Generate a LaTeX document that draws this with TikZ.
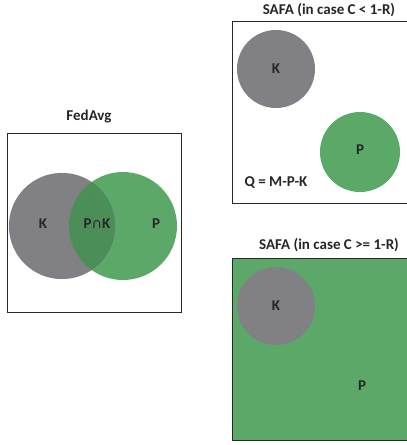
\documentclass[tikz,border=0pt]{standalone}
\usepackage{fontspec}
\setmainfont{Carlito}
\definecolor{kgray}{RGB}{128,128,133}
\definecolor{pgreen}{RGB}{92,168,104}
\definecolor{pkgreen}{RGB}{76,142,88}
\definecolor{frame}{RGB}{40,40,40}
\begin{document}
\begin{tikzpicture}[x=1pt,y=-1pt,
  title/.style={font=\bfseries\fontsize{15}{17}\selectfont, text=black!85},
  lab/.style={font=\bfseries\fontsize{15}{17}\selectfont, text=black!85},
  boxline/.style={draw=frame, line width=1pt}]
\useasboundingbox (0,0) rectangle (407,445);
% FedAvg
\node[title] (t1) at (89,117) {FedAvg};
\draw[boxline] (7,133) rectangle (181,312);
\fill[kgray] (62,226) circle (53);
\fill[pgreen] (123,226) circle (54);
\begin{scope}
\clip (62,226) circle (53);
\fill[pkgreen] (123,226) circle (54);
\end{scope}
\draw[kgray!80!black, line width=0.3pt, opacity=0.4] (62,226) circle (53);
\node[lab] (k1) at (43,224) {K};
\node[lab] (pk) at (97,224) {P∩K};
\node[lab] (p1) at (156,224) {P};
% SAFA case 1
\node[title] (t2) at (329,10) {SAFA (in case C < 1-R)};
\draw[boxline] (408,21) -- (232,21) -- (232,203) -- (408,203);
\fill[kgray] (276,69) circle (39);
\fill[pgreen] (360,152) circle (40);
\node[lab] (k2) at (276,69) {K};
\node[lab] (p2) at (360,150) {P};
\node[lab] (q) at (276,183) {Q = M-P-K};
% SAFA case 2
\node[title] (t3) at (329,245) {SAFA (in case C >= 1-R)};
\fill[pgreen] (232,258) rectangle (408,440);
\draw[boxline] (408,258) -- (232,258) -- (232,440) -- (408,440);
\fill[kgray] (276,306) circle (39);
\node[lab] (k3) at (276,306) {K};
\node[lab] (p3) at (362,386) {P};
\end{tikzpicture}
\end{document}
